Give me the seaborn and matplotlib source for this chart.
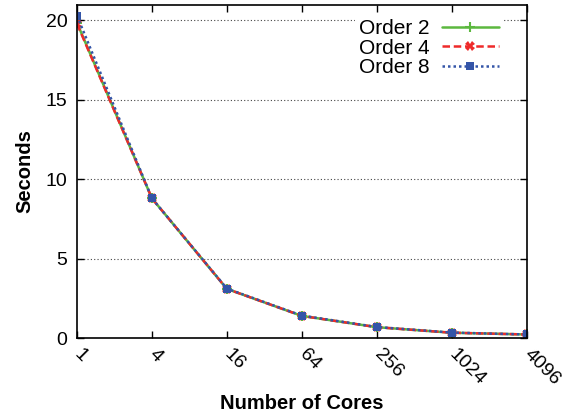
import seaborn as sns
from matplotlib import pyplot as plt

# dados
cores = [1, 4, 16, 64, 256, 1024, 4096]
order2 = [19.85, 8.8, 3.1, 1.4, 0.69, 0.34, 0.23]
order4 = [19.8, 8.8, 3.1, 1.4, 0.69, 0.34, 0.23]
order8 = [20.3, 8.8, 3.12, 1.42, 0.7, 0.35, 0.23]

sns.set_style("ticks", {"axes.edgecolor": "black", "text.color": "black",
                        "axes.labelcolor": "black", "xtick.color": "black",
                        "ytick.color": "black"})
plt.rcParams['font.family'] = ['Liberation Sans', 'DejaVu Sans']

fig = plt.figure(figsize=(5.62, 4.19), dpi=100)
ax = fig.add_axes([0.137, 0.193, 0.800, 0.796])

ax.grid(False)
for y in [5, 10, 15, 20]:
    ax.axhline(y, color='#444444', linestyle=(0, (1, 2)), linewidth=0.8, zorder=0)

# uma chamada por série (marcadores diferentes)
sns.lineplot(x=cores, y=order2, label="Order 2", color="#5cb83f", marker="+",
             markersize=7, markeredgewidth=1.5, markeredgecolor="#5cb83f",
             linewidth=1.8, ax=ax)
sns.lineplot(x=cores, y=order4, label="Order 4", color="#ee2a2a", marker="X",
             markersize=7, markeredgewidth=0, linewidth=1.8, linestyle=(0, (3, 1.5)), ax=ax)
sns.lineplot(x=cores, y=order8, label="Order 8", color="#3455a8", marker="s",
             markersize=6, markeredgewidth=0, linewidth=1.8, linestyle=(0, (1, 1.2)), ax=ax)

ax.set_xscale('log', base=2)
ax.set_xlim(1, 4096)
ax.set_ylim(0, 21)
ax.set_xticks(cores)
ax.set_xticklabels([str(c) for c in cores], rotation=-45, ha='left', va='center',
                   rotation_mode='anchor')
ax.xaxis.set_minor_locator(plt.NullLocator())
ax.set_yticks([0, 5, 10, 15, 20])
ax.tick_params(direction='in', length=5, width=1, top=True, right=True, labelsize=14)
ax.tick_params(axis='x', pad=10)
ax.tick_params(axis='y', pad=7)
for s in ax.spines.values():
    s.set_linewidth(1.2)

ax.set_xlabel("Number of Cores", fontsize=14.5, fontweight='bold', labelpad=4)
ax.set_ylabel("Seconds", fontsize=14.5, fontweight='bold', labelpad=8)

leg = ax.legend(loc='upper right', bbox_to_anchor=(0.97, 1.0), markerfirst=False,
                fontsize=15, frameon=True, fancybox=False, handlelength=2.7,
                handletextpad=0.6, labelspacing=0.02, borderpad=0.2)
leg.get_frame().set_facecolor('white')
leg.get_frame().set_edgecolor('none')
leg.get_frame().set_alpha(1)

plt.savefig("out.png", dpi=100)
